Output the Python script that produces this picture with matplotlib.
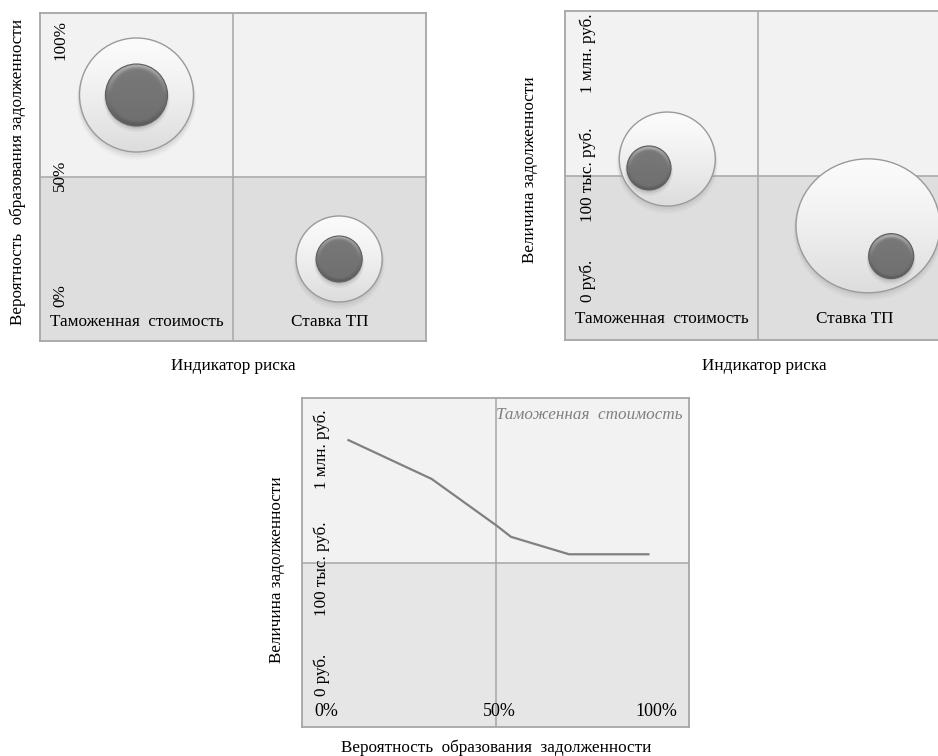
import numpy as np
import matplotlib
matplotlib.use("Agg")
import matplotlib.pyplot as plt
from matplotlib.patches import Ellipse
from matplotlib.transforms import blended_transform_factory

plt.rcParams['font.family'] = ['Liberation Serif', 'DejaVu Serif']

# ── данные ──────────────────────────────
categories = ["Таможенная  стоимость", "Ставка ТП"]

# панель 1: вероятность (%)
p1_x = [0.0, 1.05]
p1_y = [75, 25]
p1_outer = [57, 43]       # размер внешнего круга
p1_inner = [31, 23]       # размер шарика
p1_ticks = ["0%", "50%", "100%"]

# панель 2: величина (условная шкала 0..100, 50 = 100 тыс. руб.)
p2_outer_x = [0.03, 1.07]
p2_outer_y = [55, 34.7]
p2_outer_w = [48, 72]
p2_outer_h = [47, 67]
p2_inner_x = [-0.065, 1.19]
p2_inner_y = [52.3, 25.5]
p2_inner = [22, 22.5]
p2_ticks = ["0 руб.", "100 тыс. руб.", "1 млн. руб."]

# панель 3: линия
p3_x = [12, 33.5, 50.3, 54, 69, 89.5]
p3_y = [87.2, 75.4, 61.2, 57.8, 52.5, 52.5]
p3_xticks = ["0%", "50%", "100%"]
p3_series = "Таможенная  стоимость"

W, H = 938, 756
fig = plt.figure(figsize=(W / 100, H / 100), dpi=100)


def make_ax(x0, y0, x1, y1, xlim, top="#f2f2f2", bottom="#dedede"):
    ax = fig.add_axes([x0 / W, 1 - y1 / H, (x1 - x0) / W, (y1 - y0) / H])
    ax.set_xlim(*xlim)
    ax.set_ylim(0, 100)
    xm = sum(xlim) / 2
    ax.axhspan(50, 100, color=top, zorder=0, lw=0)
    ax.axhspan(0, 50, color=bottom, zorder=0, lw=0)
    ax.axvline(xm, color="#a6a6a6", lw=1.1, zorder=1)
    ax.axhline(50, color="#a6a6a6", lw=1.1, zorder=1)
    ax.set_xticks([])
    ax.set_yticks([])
    for s in ax.spines.values():
        s.set_color("#a6a6a6")
        s.set_linewidth(1.3)
    return ax


def px_scale(ax):
    p0 = ax.transData.transform((0, 0))
    p1 = ax.transData.transform((1, 1))
    return p1[0] - p0[0], p1[1] - p0[1]


def outer_bubble(ax, x, y, rx_px, ry_px):
    sx, sy = px_scale(ax)
    w, h = 2 * rx_px / sx, 2 * ry_px / sy
    # тень
    for k, a in [(5, 0.05), (3.5, 0.07), (2, 0.09)]:
        sh = Ellipse((x, y - k / sy), w + k / sx, h + k / sy, fc="#777777",
                     ec="none", alpha=a, zorder=2)
        ax.add_patch(sh)
    e = Ellipse((x, y), w, h, fc="none", ec="#9a9a9a", lw=1.0, zorder=4)
    ax.add_patch(e)
    g = np.linspace(1, 0, 100).reshape(-1, 1)
    img = 0.985 - 0.12 * (1 - g) ** 1.3
    rgb = np.dstack([img, img, img]) * np.ones((1, 10, 1))
    im = ax.imshow(rgb, extent=(x - w / 2, x + w / 2, y - h / 2, y + h / 2),
                   aspect="auto", interpolation="bilinear", zorder=3)
    im.set_clip_path(e)


def ball(ax, x, y, r_px):
    sx, sy = px_scale(ax)
    w, h = 2 * r_px / sx, 2 * r_px / sy
    for k, a in [(4, 0.06), (2.5, 0.1), (1.2, 0.14)]:
        sh = Ellipse((x, y - k / sy), w + k / sx, h + k / sy, fc="#444444",
                     ec="none", alpha=a, zorder=5)
        ax.add_patch(sh)
    e = Ellipse((x, y), w, h, fc="none", ec="#5e5e5e", lw=0.8, zorder=7)
    ax.add_patch(e)
    n = 120
    gx, gy = np.meshgrid(np.linspace(-1, 1, n), np.linspace(1, -1, n))
    r = np.sqrt(gx ** 2 + gy ** 2)
    v = 0.455 + 0.02 * gy
    v = v + 0.22 * np.exp(-((r - 0.93) / 0.09) ** 2) * np.clip(gy, 0, 1)
    v = v - 0.08 * np.exp(-((r - 0.95) / 0.08) ** 2) * np.clip(-gy, 0, 1)
    v = np.clip(v, 0, 1)
    rgb = np.dstack([v, v, v])
    im = ax.imshow(rgb, extent=(x - w / 2, x + w / 2, y - h / 2, y + h / 2),
                   aspect="auto", interpolation="bilinear", zorder=6)
    im.set_clip_path(e)


fs = 12.3

# ── панель 1 ────────────────────────────
ax1 = make_ax(40, 13, 426, 341, (-0.5, 1.5))
for i in range(len(p1_x)):
    outer_bubble(ax1, p1_x[i], p1_y[i], p1_outer[i], p1_outer[i])
    ball(ax1, p1_x[i], p1_y[i], p1_inner[i])
tr1 = blended_transform_factory(ax1.transAxes, ax1.transAxes)
for lab, yy in zip(p1_ticks, [0.14, 0.506, 0.918]):
    ax1.text(0.052, yy, lab, rotation=90, ha="center", va="center",
             fontsize=fs, transform=tr1, zorder=8)
trx1 = blended_transform_factory(ax1.transData, ax1.transAxes)
for i, lab in enumerate(categories):
    ax1.text(i, 0.034, lab, ha="center", va="bottom", fontsize=fs,
             transform=trx1, zorder=8)
fig.text(233 / W, 1 - 366 / H, "Индикатор риска", ha="center", va="center",
         fontsize=fs)
fig.text(18 / W, 1 - 172 / H, "Вероятность  образования задолженности",
         rotation=90, ha="center", va="center", fontsize=fs)

# ── панель 2 ────────────────────────────
ax2 = make_ax(565, 11, 951, 340, (-0.5, 1.5))
for i in range(len(p2_outer_x)):
    outer_bubble(ax2, p2_outer_x[i], p2_outer_y[i], p2_outer_w[i], p2_outer_h[i])
    ball(ax2, p2_inner_x[i], p2_inner_y[i], p2_inner[i])
for lab, yy in zip(p2_ticks, [0.179, 0.502, 0.872]):
    ax2.text(0.06, yy, lab, rotation=90, ha="center", va="center",
             fontsize=fs, transform=ax2.transAxes, zorder=8)
trx2 = blended_transform_factory(ax2.transData, ax2.transAxes)
for i, lab in enumerate(categories):
    ax2.text(i, 0.04, lab, ha="center", va="bottom", fontsize=fs,
             transform=trx2, zorder=8)
fig.text(764 / W, 1 - 366 / H, "Индикатор риска", ha="center", va="center",
         fontsize=fs)
fig.text(530 / W, 1 - 170 / H, "Величина задолженности",
         rotation=90, ha="center", va="center", fontsize=fs)

# ── панель 3 ────────────────────────────
ax3 = make_ax(302, 398, 689, 727, (0, 100), bottom="#e6e6e6")
ax3.plot(p3_x, p3_y, color="#808080", lw=1.6, zorder=5)
for lab, yy in zip(p2_ticks, [0.158, 0.48, 0.845]):
    ax3.text(0.052, yy, lab, rotation=90, ha="center", va="center",
             fontsize=fs, transform=ax3.transAxes, zorder=8)
for lab, xx, ha in zip(p3_xticks, [0.031, 0.51, 0.969], ["left", "center", "right"]):
    ax3.text(xx, 0.046, lab, ha=ha, va="center", fontsize=13,
             transform=ax3.transAxes, zorder=8)
ax3.text(0.984, 0.948, p3_series, ha="right", va="center", fontsize=fs,
         style="italic", color="#808080", transform=ax3.transAxes, zorder=8)
fig.text(496 / W, 1 - 748 / H, "Вероятность  образования  задолженности",
         ha="center", va="center", fontsize=fs)
fig.text(277 / W, 1 - 570 / H, "Величина задолженности",
         rotation=90, ha="center", va="center", fontsize=fs)

fig.savefig("out.png", dpi=100)
